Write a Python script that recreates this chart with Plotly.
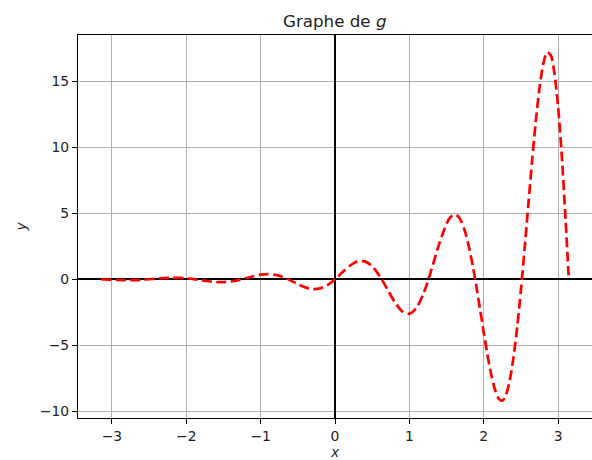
import plotly.graph_objects as go

# x sample points
x_vals = [-3.1416, -3.1, -3.0, -2.9, -2.8, -2.7, -2.6, -2.5, -2.4, -2.3, -2.2, -2.1,
          -2.0, -1.9, -1.8, -1.7, -1.6, -1.5, -1.4, -1.3, -1.2, -1.1, -1.0,
          -0.9, -0.8, -0.7, -0.6, -0.5, -0.4, -0.3, -0.2, -0.1, 0.0,
          0.1, 0.2, 0.3, 0.4, 0.5, 0.6, 0.7, 0.8, 0.9, 1.0,
          1.1, 1.2, 1.3, 1.4, 1.5, 1.55, 1.6, 1.65, 1.7, 1.75, 1.8, 1.85, 1.9, 1.95,
          2.0, 2.05, 2.1, 2.15, 2.2, 2.25, 2.3, 2.35, 2.4, 2.45, 2.5, 2.55,
          2.6, 2.65, 2.7, 2.75, 2.8, 2.85, 2.9, 2.95, 3.0, 3.05, 3.1, 3.1416]
g_vals = [0.0, -0.0093, -0.0324, -0.0514, -0.0602, -0.0540, -0.0312, 0.0054, 0.0487, 0.0878, 0.1108, 0.1077,
          0.0736, 0.0112, -0.0681, -0.1459, -0.1998, -0.2093, -0.1620, -0.0586, 0.0842, 0.2348, 0.3528,
          0.3974, 0.3401, 0.1742, -0.0774, -0.3630, -0.6095, -0.7390, -0.6890, -0.4338, 0.0,
          0.5298, 1.0278, 1.3465, 1.3565, 0.9868, 0.2571, -0.7064, -1.6843, -2.4043, -2.6066,
          -2.1195, -0.9276, 0.7893, 2.6643, 4.2038, 4.6856, 4.9005, 4.803, 4.3709, 3.595, 2.4930, 1.106, -0.5028, -2.2457,
          -4.0197, -5.706, -7.1838, -8.328, -9.0249, -9.183, -8.7324, -7.640, -5.9151, -3.605, -0.8077, 2.339,
          5.6575, 8.941, 11.9603, 14.484, 16.2900, 17.178, 16.9910, 15.629, 13.0616, 9.335, 4.5839, 0.3]

x_ticks = [-3, -2, -1, 0, 1, 2, 3]
y_ticks = [-10, -5, 0, 5, 10, 15]

FONT = "DejaVu Sans"
TXT = "#222222"

fig = go.Figure()
fig.add_trace(go.Scatter(
    x=x_vals, y=g_vals, mode="lines",
    line=dict(color="red", width=2.7, dash="10px,4.4px", shape="spline", smoothing=0.8),
    showlegend=False, hoverinfo="skip",
))

axis_common = dict(
    showgrid=True, gridcolor="#b0b0b0", gridwidth=1.1,
    showline=True, linecolor="black", linewidth=1.1, mirror=True,
    ticks="outside", ticklen=5, tickwidth=1.1, tickcolor="black",
    tickfont=dict(family=FONT, size=13.9, color=TXT),
    zeroline=True, zerolinecolor="black", zerolinewidth=2,
)

fig.update_layout(
    width=592, height=460,
    margin=dict(l=77.5, r=0, t=35, b=42),
    paper_bgcolor="white", plot_bgcolor="white",
    title=dict(text="Graphe de <i>g</i>", x=0.5655, xanchor="center", y=0.955, yanchor="middle",
               font=dict(family=FONT, size=16.7, color=TXT)),
    xaxis=dict(range=[-3.456, 3.456], tickvals=x_ticks,
               title=dict(text="<i>x</i>", font=dict(family=FONT, size=13.9, color=TXT), standoff=7),
               **axis_common),
    yaxis=dict(range=[-10.5, 18.5], tickvals=y_ticks,
               title=dict(text="<i>y</i>", font=dict(family=FONT, size=13.9, color=TXT), standoff=9),
               **axis_common),
)

fig.write_html(
    "out.html",
    config={"displayModeBar": False},
    post_script="document.body.style.margin='0';document.body.style.overflow='hidden';",
)
